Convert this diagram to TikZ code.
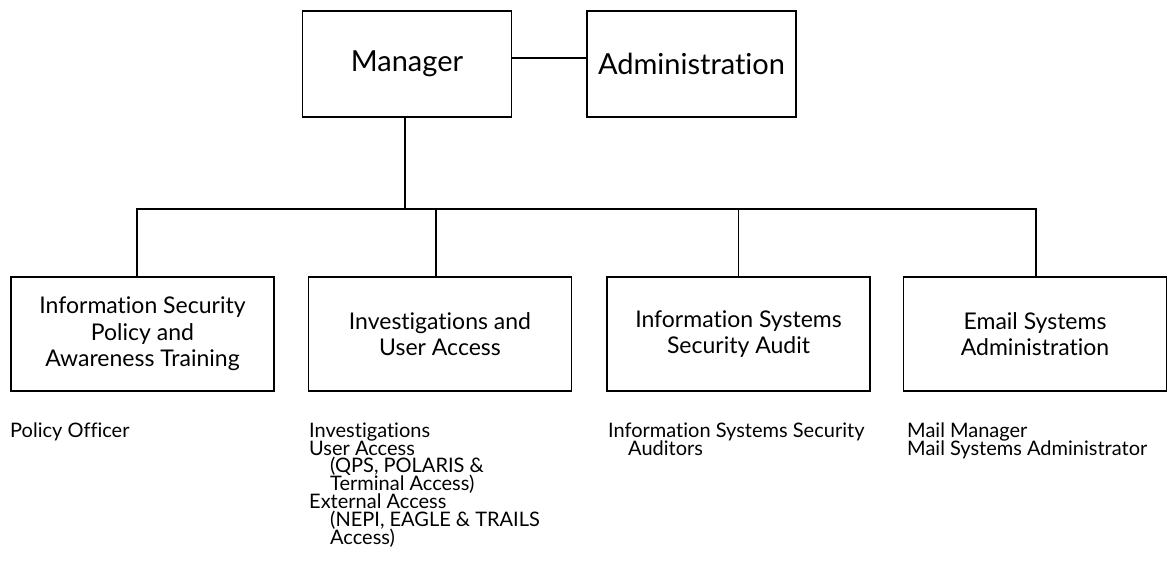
\documentclass[tikz,border=0pt]{standalone}
\usepackage{fontspec}
\setmainfont{Lato}[Ligatures={CommonOff,ContextualOff}]
\newcommand\myStaffFont{\fontsize{20}{17.8}\selectfont\lineskiplimit=-20pt\relax\lineskip=0pt\relax}
\begin{document}
\begin{tikzpicture}[x=1pt,y=-1pt,
  ln/.style={line width=1.8pt},
  bigbox/.style={draw, ln, inner sep=0pt, minimum width=209pt, minimum height=106pt, font=\fontsize{29}{36}\selectfont},
  unitbox/.style={draw, ln, inner sep=0pt, minimum width=263pt, minimum height=114pt, align=center, font=\fontsize{23}{26.5}\selectfont},
  staff/.style={anchor=north west, inner sep=0pt, align=left, font=\myStaffFont}]
\useasboundingbox (0,0) rectangle (1167,584);
\node[bigbox] (mgr) at (407,64) {Manager};
\node[bigbox] (adm) at (691.5,64) {Administration};
\draw[ln] ([yshift=6pt]mgr.east) -- ([yshift=6pt]adm.west);
\node[unitbox] (b1) at (142.5,334) {Information Security\\Policy and\\Awareness Training};
\node[unitbox] (b2) at (440,334) {Investigations and\\User Access};
\node[unitbox] (b3) at (738.5,334) {Information Systems\\Security Audit};
\node[unitbox] (b4) at (1035,334) {Email Systems\\Administration};
\coordinate (bus) at (405,209);
\coordinate (t1) at ([xshift=-5.5pt]b1.north);
\coordinate (t2) at ([xshift=-4pt]b2.north);
\coordinate (t3) at (b3.north);
\coordinate (t4) at ([xshift=1pt]b4.north);
\draw[ln] ([xshift=-2pt]mgr.south) -- ([xshift=-2pt]mgr.south |- bus);
\draw[ln] (t1) |- (bus) -| (t4);
\draw[ln] (t2) -- (t2 |- bus);
\draw[ln] (t3) -- (t3 |- bus);
\node[staff] (s1) at (10,422.5) {Policy Officer};
\node[staff] (s2) at (309,422.5) {Investigations\\User Access\\\hspace*{21pt}(QPS, POLARIS \&\\\hspace*{21pt}Terminal Access)\\External Access\\\hspace*{21pt}(NEPI, EAGLE \& TRAILS\\\hspace*{21pt}Access)};
\node[staff] (s3) at (608,422.5) {Information Systems Security\\\hspace*{20pt}Auditors};
\node[staff] (s4) at (907,422.5) {Mail Manager\\Mail Systems Administrator};
\end{tikzpicture}
\end{document}
